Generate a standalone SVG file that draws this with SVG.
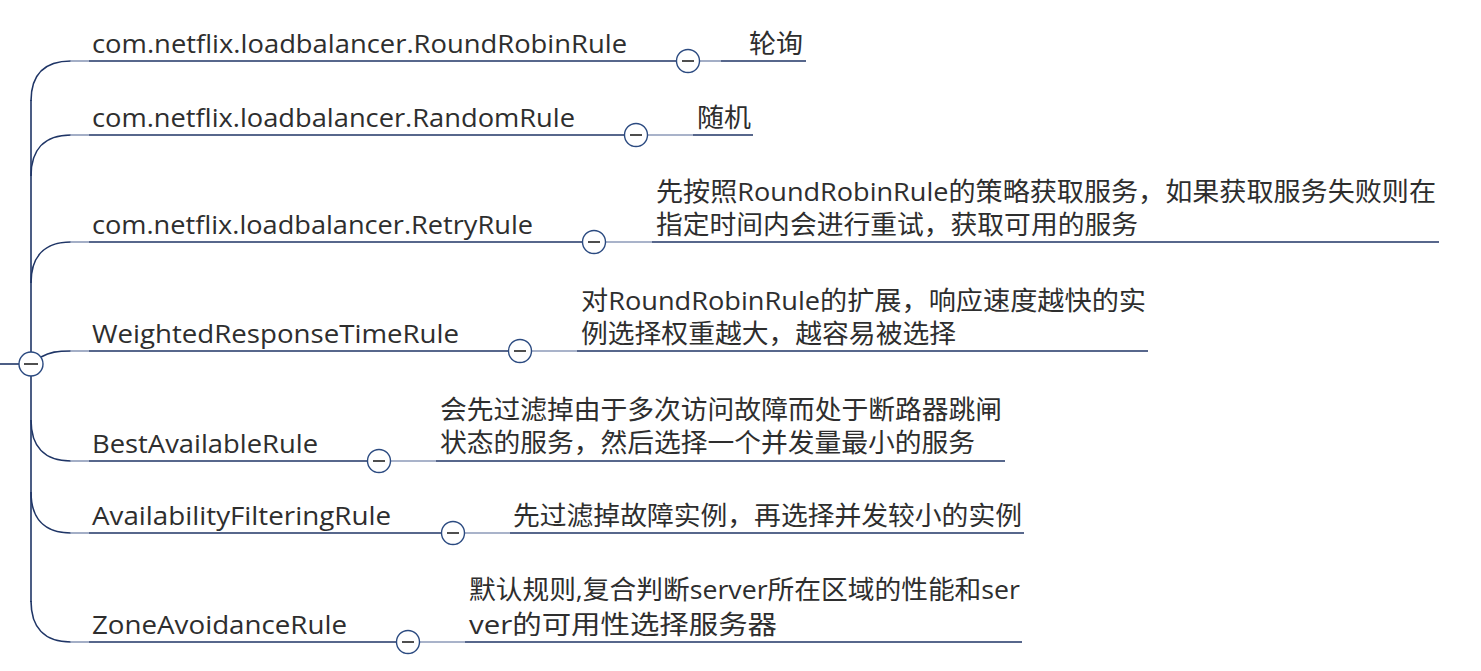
<svg xmlns="http://www.w3.org/2000/svg" width="1481" height="671" viewBox="0 0 1481 671">
<style>
.ln{fill:none;stroke:#1f3566;stroke-width:1.6}
.lt{fill:none;stroke:#8c9ab8;stroke-width:1.6}
.tg{fill:#fff;stroke:#2b4a80;stroke-width:1.4}
.mn{stroke:#222;stroke-width:1.6}
.t{font-family:"Open Sans","Noto Sans CJK SC",sans-serif;font-size:26px;fill:#2e2e2e}
</style>
<rect width="1481" height="671" fill="#fff"/>
<g id="connectors">
<line class="ln" x1="0" y1="364" x2="20" y2="364"/>
<line class="ln" x1="31" y1="100" x2="31" y2="602"/>
<path class="ln" d="M31,101 C31,75 44,61 71,61"/>
<path class="ln" d="M31,176 C31,150 44,135 71,135"/>
<path class="ln" d="M31,283 C31,257 44,242 71,242"/>
<path class="ln" d="M41,357 C50,352 57,351 71,351"/>
<path class="ln" d="M31,420 C31,446 44,461 71,461"/>
<path class="ln" d="M31,492 C31,518 44,533 71,533"/>
<path class="ln" d="M31,601 C31,627 44,642 71,642"/>
<line class="lt" x1="70" y1="61" x2="89" y2="61"/>
<line class="lt" x1="70" y1="135" x2="89" y2="135"/>
<line class="lt" x1="70" y1="242" x2="89" y2="242"/>
<line class="lt" x1="70" y1="351" x2="89" y2="351"/>
<line class="lt" x1="70" y1="461" x2="89" y2="461"/>
<line class="lt" x1="70" y1="533" x2="89" y2="533"/>
<line class="lt" x1="70" y1="642" x2="89" y2="642"/>
<line class="lt" x1="699" y1="61" x2="721" y2="61"/>
<line class="lt" x1="647" y1="135" x2="693" y2="135"/>
<line class="lt" x1="606" y1="242" x2="652" y2="242"/>
<line class="lt" x1="531" y1="351" x2="577" y2="351"/>
<line class="lt" x1="390" y1="461" x2="436" y2="461"/>
<line class="lt" x1="464" y1="533" x2="510" y2="533"/>
<line class="lt" x1="419" y1="642" x2="465" y2="642"/>
</g>
<g id="root">
<circle class="tg" cx="31" cy="364" r="12"/>
<line class="mn" x1="24" y1="364" x2="38" y2="364"/>
</g>
<g id="n1">
<line class="ln" x1="89" y1="61" x2="677" y2="61"/>
<text class="t" x="92" y="53" textLength="535" lengthAdjust="spacingAndGlyphs">com.netflix.loadbalancer.RoundRobinRule</text>
<circle class="tg" cx="688" cy="61" r="11.5"/>
<line class="mn" x1="682" y1="61" x2="694" y2="61"/>
</g>
<g id="n1c">
<line class="ln" x1="721" y1="61" x2="806" y2="61"/>
<text class="t" x="749" y="53" textLength="54" lengthAdjust="spacingAndGlyphs">轮询</text>
</g>
<g id="n2">
<line class="ln" x1="89" y1="135" x2="625" y2="135"/>
<text class="t" x="92" y="127" textLength="483" lengthAdjust="spacingAndGlyphs">com.netflix.loadbalancer.RandomRule</text>
<circle class="tg" cx="636" cy="135" r="11.5"/>
<line class="mn" x1="630" y1="135" x2="642" y2="135"/>
</g>
<g id="n2c">
<line class="ln" x1="693" y1="135" x2="753" y2="135"/>
<text class="t" x="697" y="127" textLength="54" lengthAdjust="spacingAndGlyphs">随机</text>
</g>
<g id="n3">
<line class="ln" x1="89" y1="242" x2="583" y2="242"/>
<text class="t" x="92" y="234" textLength="441" lengthAdjust="spacingAndGlyphs">com.netflix.loadbalancer.RetryRule</text>
<circle class="tg" cx="594" cy="242" r="11.5"/>
<line class="mn" x1="588" y1="242" x2="600" y2="242"/>
</g>
<g id="n3c">
<line class="ln" x1="652" y1="242" x2="1439" y2="242"/>
<text class="t" x="656" y="201" textLength="780" lengthAdjust="spacingAndGlyphs">先按照RoundRobinRule的策略获取服务，如果获取服务失败则在</text>
<text class="t" x="656" y="234" textLength="482" lengthAdjust="spacingAndGlyphs">指定时间内会进行重试，获取可用的服务</text>
</g>
<g id="n4">
<line class="ln" x1="89" y1="351" x2="509" y2="351"/>
<text class="t" x="92" y="343" textLength="367" lengthAdjust="spacingAndGlyphs">WeightedResponseTimeRule</text>
<circle class="tg" cx="520" cy="351" r="11.5"/>
<line class="mn" x1="514" y1="351" x2="526" y2="351"/>
</g>
<g id="n4c">
<line class="ln" x1="577" y1="351" x2="1148" y2="351"/>
<text class="t" x="581" y="310" textLength="565" lengthAdjust="spacingAndGlyphs">对RoundRobinRule的扩展，响应速度越快的实</text>
<text class="t" x="581" y="343" textLength="375" lengthAdjust="spacingAndGlyphs">例选择权重越大，越容易被选择</text>
</g>
<g id="n5">
<line class="ln" x1="89" y1="461" x2="368" y2="461"/>
<text class="t" x="92" y="453" textLength="226" lengthAdjust="spacingAndGlyphs">BestAvailableRule</text>
<circle class="tg" cx="379" cy="461" r="11.5"/>
<line class="mn" x1="373" y1="461" x2="385" y2="461"/>
</g>
<g id="n5c">
<line class="ln" x1="436" y1="461" x2="1005" y2="461"/>
<text class="t" x="440" y="419" textLength="562" lengthAdjust="spacingAndGlyphs">会先过滤掉由于多次访问故障而处于断路器跳闸</text>
<text class="t" x="440" y="452" textLength="535" lengthAdjust="spacingAndGlyphs">状态的服务，然后选择一个并发量最小的服务</text>
</g>
<g id="n6">
<line class="ln" x1="89" y1="533" x2="442" y2="533"/>
<text class="t" x="92" y="525" textLength="299" lengthAdjust="spacingAndGlyphs">AvailabilityFilteringRule</text>
<circle class="tg" cx="453" cy="533" r="11.5"/>
<line class="mn" x1="447" y1="533" x2="459" y2="533"/>
</g>
<g id="n6c">
<line class="ln" x1="510" y1="533" x2="1024" y2="533"/>
<text class="t" x="513" y="525" textLength="509" lengthAdjust="spacingAndGlyphs">先过滤掉故障实例，再选择并发较小的实例</text>
</g>
<g id="n7">
<line class="ln" x1="89" y1="642" x2="397" y2="642"/>
<text class="t" x="92" y="634" textLength="255" lengthAdjust="spacingAndGlyphs">ZoneAvoidanceRule</text>
<circle class="tg" cx="408" cy="642" r="11.5"/>
<line class="mn" x1="402" y1="642" x2="414" y2="642"/>
</g>
<g id="n7c">
<line class="ln" x1="465" y1="642" x2="1022" y2="642"/>
<text class="t" x="469" y="599" textLength="551" lengthAdjust="spacingAndGlyphs">默认规则,复合判断server所在区域的性能和ser</text>
<text class="t" x="469" y="634" textLength="308" lengthAdjust="spacingAndGlyphs">ver的可用性选择服务器</text>
</g>
</svg>
